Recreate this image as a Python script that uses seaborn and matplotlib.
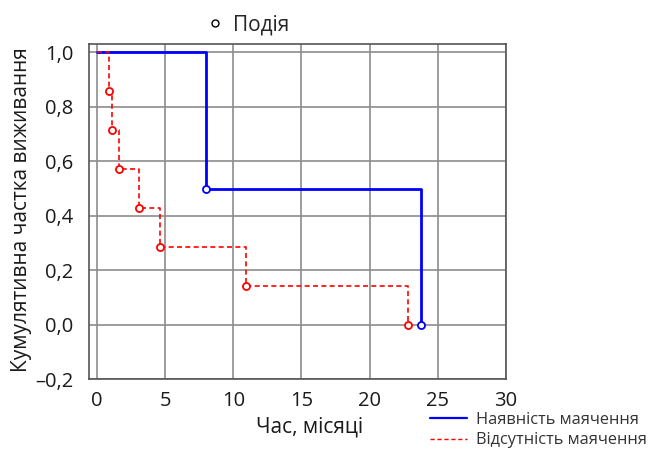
import matplotlib
matplotlib.use("Agg")
import matplotlib.pyplot as plt
import matplotlib.ticker as mticker
from matplotlib.lines import Line2D
import seaborn as sns
import pandas as pd

# Data
blue_label = "Наявність маячення"
red_label = "Відсутність маячення"
blue_times = [0, 8.0, 23.8]
blue_surv = [1.0, 0.5, 0.0]
red_times = [0, 0.9, 1.1, 1.65, 3.1, 4.6, 10.95, 22.8]
red_surv = [1.0, 0.857, 0.714, 0.571, 0.429, 0.286, 0.143, 0.0]
event_label = "Подія"
x_ticks = [0, 5, 10, 15, 20, 25, 30]
y_ticks = [-0.2, 0.0, 0.2, 0.4, 0.6, 0.8, 1.0]

sns.set_theme(style="white")
plt.rcParams['font.family'] = ['Open Sans', 'DejaVu Sans']

fig = plt.figure(figsize=(6.54, 4.5), dpi=100)
ax = fig.add_axes([88.7/654, 1-379/450, (506-88.7)/654, (379-44)/450])

blue_df = pd.DataFrame({"t": blue_times, "s": blue_surv})
red_df = pd.DataFrame({"t": red_times, "s": red_surv})

sns.lineplot(data=blue_df, x="t", y="s", ax=ax, color="#0000ff", lw=2.0,
             drawstyle="steps-post", estimator=None, sort=False, zorder=3)
sns.lineplot(data=red_df, x="t", y="s", ax=ax, color="#ff0000", lw=1.2,
             linestyle=(0, (3, 2)), drawstyle="steps-post", estimator=None,
             sort=False, zorder=4)
sns.scatterplot(data=blue_df.iloc[1:], x="t", y="s", ax=ax, marker="o", s=26,
                facecolor="white", edgecolor="#0000ff", linewidth=1.3, zorder=5)
sns.scatterplot(data=red_df.iloc[1:], x="t", y="s", ax=ax, marker="o", s=26,
                facecolor="white", edgecolor="#ff0000", linewidth=1.3, zorder=5)

ax.set_xlim(-0.6, 30)
ax.set_ylim(-0.2, 1.031)
ax.set_xticks(x_ticks)
ax.set_yticks(y_ticks)
ax.yaxis.set_major_formatter(mticker.FuncFormatter(
    lambda v, p: ("%.1f" % v).replace(".", ",").replace("-", "\u2013")))
ax.grid(True, color="#8c8c8c", lw=1.2)
for sp in ax.spines.values():
    sp.set_color("#555555")
    sp.set_linewidth(1.2)
ax.tick_params(axis="y", length=0, labelsize=14.5, colors="#1a1a1a", pad=11)
ax.tick_params(axis="x", length=0, labelsize=14.5, colors="#1a1a1a", pad=9)
ax.set_xlabel("Час, місяці", fontsize=15, color="#1a1a1a")
ax.xaxis.set_label_coords((310-88.7)/(506-88.7), -(433-379)/(379-44), transform=ax.transAxes)
ax.xaxis.label.set_va("baseline")
ax.set_ylabel("Кумулятивна частка виживання", fontsize=15, color="#1a1a1a")
ax.yaxis.set_label_coords(-(88.7-22)/(506-88.7), (379-210)/(379-44), transform=ax.transAxes)
ax.yaxis.label.set_va("center")

# legends
h_event = Line2D([], [], marker="o", linestyle="none", markerfacecolor="white",
                 markeredgecolor="black", markersize=5, markeredgewidth=1)
fig.legend([h_event], [event_label], loc="center", bbox_to_anchor=(248/654, 1-25/450),
           frameon=False, fontsize=15, handlelength=0.8, handletextpad=0.5)
h_b = Line2D([], [], color="#0000ff", lw=1.6)
h_r = Line2D([], [], color="#ff0000", lw=1.0, linestyle=(0, (3, 2)))
fig.legend([h_b, h_r], [blue_label, red_label], loc="center left",
           bbox_to_anchor=(428/654, 1-430/450), frameon=False, fontsize=11.8,
           handlelength=2.3, handletextpad=0.5, labelspacing=0.3, labelcolor="#333333",
           borderaxespad=0, borderpad=0.1)

fig.savefig("out.png", dpi=100)
